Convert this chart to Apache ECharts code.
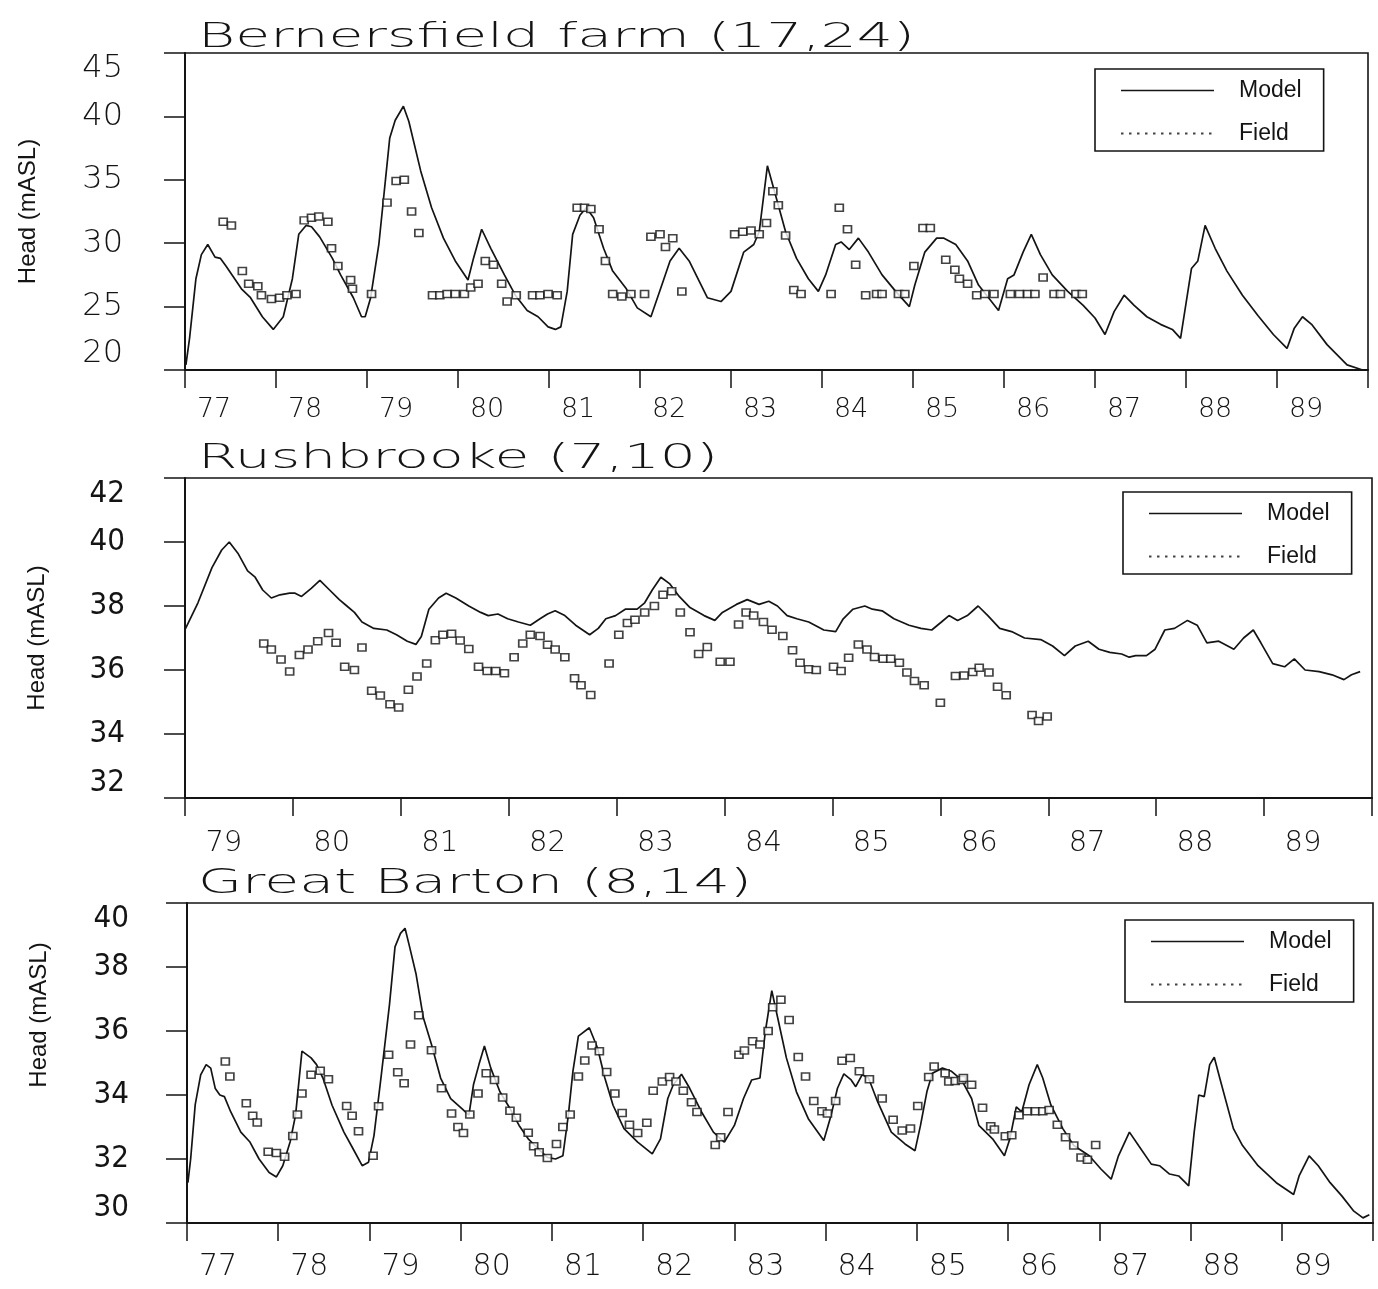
<!DOCTYPE html>
<html>
<head>
<meta charset="utf-8">
<title>Head (mASL) - model vs field</title>
<script src="https://cdn.jsdelivr.net/npm/echarts@6/dist/echarts.min.js"></script>
<style>
  html, body { margin: 0; padding: 0; background: #fff; }
  #chart { width: 1378px; height: 1289px; }
</style>
</head>
<body>
<div id="chart"></div>
<script>
// year tick labels for each panel
const bernYears = ['77', '78', '79', '80', '81', '82', '83', '84', '85', '86', '87', '88', '89']
const rushYears = ['79', '80', '81', '82', '83', '84', '85', '86', '87', '88', '89']
const bartYears = ['77', '78', '79', '80', '81', '82', '83', '84', '85', '86', '87', '88', '89']

// Bernersfield farm (17,24)
const bernModel = [
  [77.01, 20.4], [77.05, 22.5], [77.12, 27.2], [77.18, 29.1], [77.25, 29.9], [77.33, 28.9], [77.39, 28.8],
  [77.45, 28.2], [77.62, 26.4], [77.72, 25.7], [77.85, 24.2], [77.97, 23.2], [78.08, 24.2], [78.18, 27.2],
  [78.25, 30.7], [78.33, 31.4], [78.39, 31.3], [78.48, 30.5], [78.62, 28.8], [78.71, 27.5], [78.85, 25.7],
  [78.94, 24.2], [78.98, 24.2], [79.04, 25.7], [79.13, 29.9], [79.25, 38.3], [79.31, 39.7], [79.40, 40.8],
  [79.46, 39.6], [79.59, 35.7], [79.71, 32.8], [79.84, 30.4], [79.97, 28.6], [80.11, 27.1], [80.17, 28.8],
  [80.26, 31.1], [80.36, 29.6], [80.51, 27.5], [80.63, 25.9], [80.76, 24.7], [80.88, 24.2], [80.99, 23.4],
  [81.07, 23.2], [81.13, 23.4], [81.20, 26.2], [81.26, 30.7], [81.34, 32.2], [81.41, 32.8], [81.49, 32.0],
  [81.60, 29.6], [81.70, 27.8], [81.85, 26.4], [81.97, 24.9], [82.12, 24.2], [82.24, 26.7], [82.33, 28.6],
  [82.43, 29.6], [82.54, 28.6], [82.74, 25.7], [82.89, 25.4], [83.00, 26.2], [83.14, 29.3], [83.25, 29.9],
  [83.31, 30.9], [83.40, 36.1], [83.47, 34.3], [83.60, 30.9], [83.72, 28.8], [83.85, 27.2], [83.96, 26.2],
  [84.04, 27.5], [84.15, 29.9], [84.21, 30.1], [84.30, 29.5], [84.40, 30.4], [84.51, 29.3], [84.66, 27.5],
  [84.81, 26.2], [84.96, 25.0], [85.02, 26.7], [85.13, 29.3], [85.26, 30.4], [85.34, 30.4], [85.47, 29.9],
  [85.60, 28.6], [85.72, 26.7], [85.83, 25.7], [85.94, 24.7], [86.04, 27.2], [86.11, 27.5], [86.21, 29.3],
  [86.30, 30.7], [86.40, 29.1], [86.53, 27.5], [86.70, 26.2], [86.87, 25.1], [87.00, 24.1], [87.11, 22.8],
  [87.21, 24.6], [87.32, 25.9], [87.43, 25.1], [87.57, 24.2], [87.72, 23.6], [87.85, 23.2], [87.94, 22.5],
  [88.06, 28.0], [88.13, 28.6], [88.21, 31.4], [88.32, 29.6], [88.45, 27.8], [88.62, 25.9], [88.79, 24.3],
  [88.96, 22.8], [89.11, 21.7], [89.19, 23.3], [89.28, 24.2], [89.38, 23.6], [89.55, 22.0], [89.77, 20.4],
  [89.94, 20.0]
]
const bernField = [
  [77.42, 31.7], [77.51, 31.4], [77.63, 27.8], [77.70, 26.8], [77.80, 26.6], [77.84, 25.9], [77.95, 25.6],
  [78.04, 25.7], [78.12, 25.9], [78.22, 26.0], [78.31, 31.8], [78.39, 32.0], [78.47, 32.1], [78.57, 31.7],
  [78.61, 29.6], [78.68, 28.2], [78.82, 27.1], [78.84, 26.4], [79.05, 26.0], [79.22, 33.2], [79.32, 34.9],
  [79.41, 35.0], [79.49, 32.5], [79.57, 30.8], [79.72, 25.9], [79.80, 25.9], [79.88, 26.0], [79.97, 26.0],
  [80.07, 26.0], [80.14, 26.5], [80.22, 26.8], [80.30, 28.6], [80.39, 28.3], [80.48, 26.8], [80.54, 25.4],
  [80.64, 25.9], [80.82, 25.9], [80.90, 25.9], [80.99, 26.0], [81.09, 25.9], [81.31, 32.8], [81.39, 32.8],
  [81.46, 32.7], [81.55, 31.1], [81.62, 28.6], [81.70, 26.0], [81.80, 25.8], [81.90, 26.0], [82.05, 26.0],
  [82.12, 30.5], [82.22, 30.7], [82.28, 29.7], [82.36, 30.4], [82.46, 26.2], [83.04, 30.7], [83.13, 30.9],
  [83.22, 31.0], [83.31, 30.7], [83.39, 31.6], [83.46, 34.1], [83.52, 33.0], [83.60, 30.6], [83.69, 26.3],
  [83.77, 26.0], [84.10, 26.0], [84.19, 32.8], [84.28, 31.1], [84.37, 28.3], [84.48, 25.9], [84.60, 26.0],
  [84.66, 26.0], [84.84, 26.0], [84.91, 26.0], [85.01, 28.2], [85.11, 31.2], [85.19, 31.2], [85.36, 28.7],
  [85.46, 27.9], [85.51, 27.2], [85.60, 26.8], [85.70, 25.9], [85.79, 26.0], [85.89, 26.0], [86.07, 26.0],
  [86.17, 26.0], [86.26, 26.0], [86.34, 26.0], [86.43, 27.3], [86.55, 26.0], [86.62, 26.0], [86.79, 26.0],
  [86.86, 26.0]
]

// Rushbrooke (7,10)
const rushModel = [
  [79.00, 37.26], [79.12, 38.1], [79.25, 39.2], [79.34, 39.75], [79.41, 40.0], [79.49, 39.65], [79.58, 39.1],
  [79.65, 38.9], [79.72, 38.5], [79.80, 38.25], [79.88, 38.35], [79.97, 38.4], [80.02, 38.4], [80.08, 38.3],
  [80.17, 38.55], [80.25, 38.8], [80.34, 38.5], [80.43, 38.2], [80.50, 38.0], [80.57, 37.8], [80.64, 37.5],
  [80.75, 37.3], [80.87, 37.25], [80.96, 37.1], [81.06, 36.9], [81.14, 36.8], [81.19, 37.05], [81.26, 37.9],
  [81.35, 38.25], [81.42, 38.4], [81.51, 38.25], [81.63, 38.0], [81.74, 37.8], [81.81, 37.7], [81.90, 37.75],
  [81.99, 37.6], [82.09, 37.5], [82.20, 37.4], [82.29, 37.6], [82.36, 37.75], [82.43, 37.85], [82.52, 37.7],
  [82.62, 37.4], [82.75, 37.1], [82.83, 37.3], [82.90, 37.6], [82.99, 37.7], [83.08, 37.9], [83.19, 37.9],
  [83.26, 38.1], [83.33, 38.5], [83.41, 38.9], [83.49, 38.7], [83.58, 38.3], [83.68, 37.95], [83.81, 37.7],
  [83.91, 37.55], [83.98, 37.8], [84.11, 38.05], [84.21, 38.2], [84.32, 38.05], [84.41, 38.15], [84.49, 38.0],
  [84.58, 37.7], [84.67, 37.6], [84.78, 37.5], [84.92, 37.25], [85.03, 37.2], [85.10, 37.6], [85.19, 37.9],
  [85.30, 38.0], [85.37, 37.9], [85.46, 37.85], [85.57, 37.6], [85.71, 37.4], [85.82, 37.3], [85.92, 37.25],
  [86.01, 37.5], [86.08, 37.7], [86.16, 37.55], [86.25, 37.7], [86.35, 38.0], [86.44, 37.7], [86.55, 37.3],
  [86.66, 37.2], [86.78, 37.0], [86.93, 36.95], [87.04, 36.75], [87.15, 36.45], [87.25, 36.75], [87.37, 36.9],
  [87.47, 36.65], [87.57, 36.55], [87.68, 36.5], [87.75, 36.4], [87.81, 36.45], [87.91, 36.45], [87.99, 36.65],
  [88.08, 37.25], [88.17, 37.3], [88.29, 37.55], [88.38, 37.4], [88.47, 36.85], [88.58, 36.9], [88.72, 36.65],
  [88.81, 37.0], [88.90, 37.25], [88.97, 36.85], [89.08, 36.2], [89.19, 36.1], [89.28, 36.35], [89.38, 36.0],
  [89.51, 35.95], [89.63, 35.85], [89.74, 35.7], [89.81, 35.85], [89.89, 35.95]
]
const rushField = [
  [79.73, 36.83], [79.80, 36.64], [79.89, 36.33], [79.97, 35.95], [80.06, 36.47], [80.14, 36.64], [80.23, 36.9],
  [80.33, 37.16], [80.40, 36.85], [80.48, 36.1], [80.57, 36.0], [80.64, 36.7], [80.73, 35.35], [80.81, 35.2],
  [80.90, 34.93], [80.98, 34.83], [81.07, 35.38], [81.15, 35.8], [81.24, 36.2], [81.32, 36.93], [81.39, 37.1],
  [81.47, 37.13], [81.55, 36.92], [81.63, 36.66], [81.72, 36.1], [81.80, 35.97], [81.88, 35.97], [81.96, 35.9],
  [82.05, 36.4], [82.13, 36.83], [82.20, 37.1], [82.29, 37.06], [82.36, 36.79], [82.43, 36.64], [82.52, 36.4],
  [82.61, 35.74], [82.67, 35.52], [82.76, 35.22], [82.93, 36.2], [83.02, 37.1], [83.10, 37.47], [83.17, 37.57],
  [83.26, 37.8], [83.35, 38.0], [83.43, 38.35], [83.51, 38.46], [83.59, 37.8], [83.68, 37.18], [83.76, 36.5],
  [83.84, 36.72], [83.96, 36.26], [84.05, 36.26], [84.13, 37.42], [84.20, 37.8], [84.27, 37.7], [84.36, 37.5],
  [84.44, 37.26], [84.54, 37.06], [84.63, 36.62], [84.70, 36.23], [84.78, 36.02], [84.85, 36.0], [85.01, 36.1],
  [85.08, 35.97], [85.15, 36.38], [85.24, 36.8], [85.32, 36.64], [85.39, 36.41], [85.47, 36.35], [85.54, 36.35],
  [85.62, 36.23], [85.69, 35.92], [85.76, 35.66], [85.85, 35.52], [86.00, 34.98], [86.14, 35.81], [86.22, 35.83],
  [86.30, 35.94], [86.36, 36.07], [86.45, 35.92], [86.53, 35.48], [86.61, 35.21], [86.85, 34.59], [86.91, 34.41],
  [86.99, 34.55]
]

// Great Barton (8,14)
const bartModel = [
  [77.01, 31.26], [77.04, 32.0], [77.09, 33.7], [77.15, 34.63], [77.21, 34.95], [77.26, 34.84], [77.31, 34.2],
  [77.36, 34.0], [77.41, 33.95], [77.48, 33.47], [77.59, 32.84], [77.69, 32.53], [77.79, 32.0], [77.90, 31.58],
  [77.98, 31.44], [78.05, 31.79], [78.13, 32.53], [78.19, 33.37], [78.26, 35.37], [78.36, 35.16], [78.42, 34.95],
  [78.49, 34.53], [78.59, 33.68], [78.72, 32.84], [78.82, 32.32], [78.92, 31.79], [78.99, 31.9], [79.05, 32.74],
  [79.13, 34.63], [79.22, 36.84], [79.28, 38.63], [79.34, 39.05], [79.39, 39.21], [79.44, 38.63], [79.51, 37.79],
  [79.59, 36.42], [79.68, 35.58], [79.78, 34.53], [79.89, 33.89], [80.01, 33.58], [80.09, 33.37], [80.14, 34.32],
  [80.20, 34.95], [80.26, 35.53], [80.33, 34.84], [80.43, 34.1], [80.54, 33.58], [80.64, 33.05], [80.74, 32.63],
  [80.85, 32.32], [80.95, 32.05], [81.04, 32.0], [81.12, 32.1], [81.18, 33.37], [81.23, 34.74], [81.29, 35.84],
  [81.41, 36.1], [81.50, 35.47], [81.58, 34.53], [81.67, 33.68], [81.79, 32.95], [81.94, 32.53], [82.10, 32.16],
  [82.19, 32.63], [82.27, 33.89], [82.33, 34.32], [82.42, 34.65], [82.51, 34.21], [82.64, 33.47], [82.77, 32.84],
  [82.89, 32.53], [83.00, 33.05], [83.10, 33.89], [83.19, 34.47], [83.28, 34.53], [83.34, 36.0], [83.41, 37.26],
  [83.49, 36.21], [83.57, 35.16], [83.68, 34.1], [83.81, 33.26], [83.98, 32.58], [84.06, 33.37], [84.13, 34.21],
  [84.20, 34.66], [84.28, 34.47], [84.33, 34.26], [84.40, 34.63], [84.47, 34.53], [84.57, 33.79], [84.72, 32.84],
  [84.87, 32.47], [84.98, 32.26], [85.04, 33.05], [85.11, 34.1], [85.17, 34.68], [85.28, 34.84], [85.38, 34.74],
  [85.49, 34.47], [85.60, 33.89], [85.68, 33.05], [85.83, 32.63], [85.96, 32.1], [86.02, 32.63], [86.09, 33.63],
  [86.15, 33.47], [86.23, 34.32], [86.32, 34.95], [86.38, 34.53], [86.47, 33.68], [86.60, 32.95], [86.72, 32.42],
  [86.89, 32.1], [87.02, 31.68], [87.13, 31.37], [87.21, 32.1], [87.33, 32.84], [87.43, 32.42], [87.57, 31.84],
  [87.66, 31.79], [87.77, 31.53], [87.87, 31.47], [87.98, 31.16], [88.04, 32.84], [88.09, 34.0], [88.15, 33.95],
  [88.21, 34.95], [88.26, 35.18], [88.32, 34.53], [88.47, 32.95], [88.57, 32.42], [88.74, 31.79], [88.94, 31.26],
  [89.13, 30.89], [89.19, 31.47], [89.30, 32.1], [89.40, 31.79], [89.53, 31.26], [89.66, 30.84], [89.79, 30.37],
  [89.89, 30.16], [89.96, 30.26]
]
const bartField = [
  [77.42, 35.05], [77.47, 34.58], [77.65, 33.74], [77.72, 33.35], [77.77, 33.14], [77.89, 32.23], [77.98, 32.19],
  [78.07, 32.07], [78.16, 32.72], [78.21, 33.39], [78.26, 34.05], [78.36, 34.63], [78.46, 34.76], [78.55, 34.49],
  [78.75, 33.66], [78.81, 33.35], [78.88, 32.87], [79.04, 32.1], [79.10, 33.65], [79.21, 35.26], [79.31, 34.71],
  [79.38, 34.37], [79.45, 35.58], [79.54, 36.49], [79.68, 35.4], [79.79, 34.21], [79.90, 33.42], [79.97, 33.0],
  [80.03, 32.81], [80.10, 33.39], [80.19, 34.05], [80.28, 34.68], [80.37, 34.47], [80.46, 33.92], [80.54, 33.51],
  [80.61, 33.29], [80.74, 32.82], [80.80, 32.4], [80.86, 32.21], [80.95, 32.03], [81.05, 32.47], [81.12, 33.0],
  [81.20, 33.39], [81.29, 34.58], [81.36, 35.08], [81.44, 35.55], [81.52, 35.37], [81.60, 34.72], [81.69, 34.05],
  [81.77, 33.44], [81.85, 33.07], [81.94, 32.81], [82.04, 33.13], [82.11, 34.13], [82.21, 34.42], [82.29, 34.56],
  [82.36, 34.42], [82.44, 34.13], [82.53, 33.77], [82.59, 33.47], [82.79, 32.44], [82.85, 32.68], [82.93, 33.47],
  [83.05, 35.26], [83.11, 35.39], [83.20, 35.68], [83.28, 35.58], [83.37, 36.0], [83.42, 36.74], [83.51, 36.98],
  [83.60, 36.34], [83.70, 35.19], [83.78, 34.58], [83.87, 33.81], [83.96, 33.49], [84.02, 33.42], [84.11, 33.81],
  [84.18, 35.07], [84.27, 35.16], [84.37, 34.74], [84.48, 34.49], [84.62, 33.89], [84.74, 33.23], [84.84, 32.89],
  [84.93, 32.95], [85.01, 33.66], [85.13, 34.56], [85.19, 34.89], [85.31, 34.68], [85.35, 34.42], [85.42, 34.44],
  [85.49, 34.47], [85.51, 34.53], [85.60, 34.32], [85.72, 33.6], [85.81, 33.02], [85.85, 32.92], [85.97, 32.71],
  [86.04, 32.74], [86.12, 33.37], [86.21, 33.49], [86.30, 33.49], [86.38, 33.49], [86.45, 33.53], [86.54, 33.07],
  [86.63, 32.68], [86.72, 32.42], [86.80, 32.05], [86.87, 31.98], [86.96, 32.44]
]

const ink = '#141414'
const plotFont = '"DejaVu Sans", sans-serif'
const narrowFont = '"Liberation Sans Narrow", "DejaVu Sans Condensed", "Liberation Sans"'

const chart = echarts.init(document.getElementById('chart'))

// stretch the plotter-style titles to their printed width
function fitScale(text, font, width) {
  const ctx = document.createElement('canvas').getContext('2d')
  ctx.font = font
  return width / ctx.measureText(text).width
}

function titleText(text, x, y, width) {
  const font = '200 34px "DejaVu Sans"'
  return {
    type: 'text',
    x: x,
    y: y,
    scaleX: fitScale(text, font, width),
    style: { text: text, font: font, fill: ink, align: 'left', verticalAlign: 'middle' }
  }
}

// legend icons: plain solid line for Model, dotted line for Field
const solid = 'path://M0,0 M93,14 M0,6.2h93v1.6h-93z'
let dots = 'path://M0,0 M93,14'
for (let i = 0; i < 12; i++) dots += ' M' + (i * 8) + ',6h2.5v2h-2.5z'

function legendAt(left, top) {
  return {
    orient: 'vertical',
    left: left,
    top: top,
    selectedMode: false,
    data: [
      { name: 'Model', icon: solid, itemStyle: { color: ink, borderWidth: 0 } },
      { name: 'Field', icon: dots, itemStyle: { color: ink, borderWidth: 0 } }
    ],
    itemWidth: 93,
    itemHeight: 14,
    itemGap: 20,
    padding: [10, 22, 6, 26],
    borderColor: ink,
    borderWidth: 1.6,
    textStyle: { fontFamily: 'Liberation Sans', fontSize: 23, color: ink, padding: [0, 0, 0, 20] }
  }
}

function xAxisFor(grid, min, max, labels, offset, margin, size) {
  return {
    type: 'value',
    gridIndex: grid,
    min: min,
    max: max,
    interval: 1,
    axisLine: { show: true, lineStyle: { color: ink, width: 2 } },
    axisTick: { show: true, length: 18, lineStyle: { color: ink, width: 1.5 } },
    splitLine: { show: false },
    axisLabel: {
      customValues: labels.map((l, i) => min + i + offset),
      formatter: v => labels[Math.floor(v - min)],
      margin: margin,
      color: ink,
      fontFamily: plotFont,
      fontWeight: 200,
      fontSize: size
    }
  }
}

function yAxisFor(grid, min, max, interval, margin, font, weight, size, nameGap, namePad) {
  return {
    type: 'value',
    gridIndex: grid,
    min: min,
    max: max,
    interval: interval,
    name: 'Head (mASL)',
    nameLocation: 'middle',
    nameGap: nameGap,
    nameTextStyle: { fontFamily: 'Liberation Sans', fontSize: 24, color: ink, padding: namePad },
    axisLine: { show: true, lineStyle: { color: ink, width: 2 } },
    axisTick: { show: true, length: 21, lineStyle: { color: ink, width: 1.5 } },
    splitLine: { show: false },
    axisLabel: {
      margin: margin,
      color: ink,
      fontFamily: font,
      fontWeight: weight,
      fontSize: size,
      verticalAlignMinLabel: 'bottom',
      verticalAlignMaxLabel: 'top'
    }
  }
}

function modelSeries(i, data) {
  return {
    name: 'Model', type: 'line', xAxisIndex: i, yAxisIndex: i, data: data,
    symbol: 'none', lineStyle: { color: ink, width: 1.7 }, itemStyle: { color: ink }, z: 2
  }
}

function fieldSeries(i, data) {
  return {
    name: 'Field', type: 'scatter', xAxisIndex: i, yAxisIndex: i, data: data,
    symbol: 'rect', symbolSize: [8, 7],
    itemStyle: { color: '#fff', borderColor: ink, borderWidth: 1.6 }, z: 3
  }
}

const frame = { show: true, borderColor: ink, borderWidth: 1.6, backgroundColor: 'transparent' }

chart.setOption({
  animation: false,
  backgroundColor: '#fff',
  grid: [
    Object.assign({ left: 185, top: 53, width: 1183, height: 317 }, frame),
    Object.assign({ left: 185, top: 478, width: 1187, height: 320 }, frame),
    Object.assign({ left: 187, top: 903, width: 1186, height: 320 }, frame)
  ],
  xAxis: [
    xAxisFor(0, 77, 90, bernYears, 0.32, 26, 27),
    xAxisFor(1, 79, 90, rushYears, 0.36, 31, 29),
    xAxisFor(2, 77, 90, bartYears, 0.34, 29, 30)
  ],
  yAxis: [
    yAxisFor(0, 20, 45, 5, 62, plotFont, 200, 32, 145, [0, 0, 0, 0]),
    yAxisFor(1, 32, 42, 2, 60, narrowFont, 'normal', 31, 136, [0, 0, 0, 0]),
    yAxisFor(2, 30, 40, 2, 58, narrowFont, 'normal', 31, 136, [0, 0, 0, 96])
  ],
  legend: [
    legendAt(1095, 69),
    legendAt(1123, 492),
    legendAt(1125, 920)
  ],
  graphic: [
    titleText('Bernersfield farm (17,24)', 198, 38, 717),
    titleText('Rushbrooke (7,10)', 198, 459, 520),
    titleText('Great Barton (8,14)', 198, 884, 554)
  ],
  series: [
    modelSeries(0, bernModel),
    fieldSeries(0, bernField),
    modelSeries(1, rushModel),
    fieldSeries(1, rushField),
    modelSeries(2, bartModel),
    fieldSeries(2, bartField)
  ]
})
</script>
</body>
</html>
